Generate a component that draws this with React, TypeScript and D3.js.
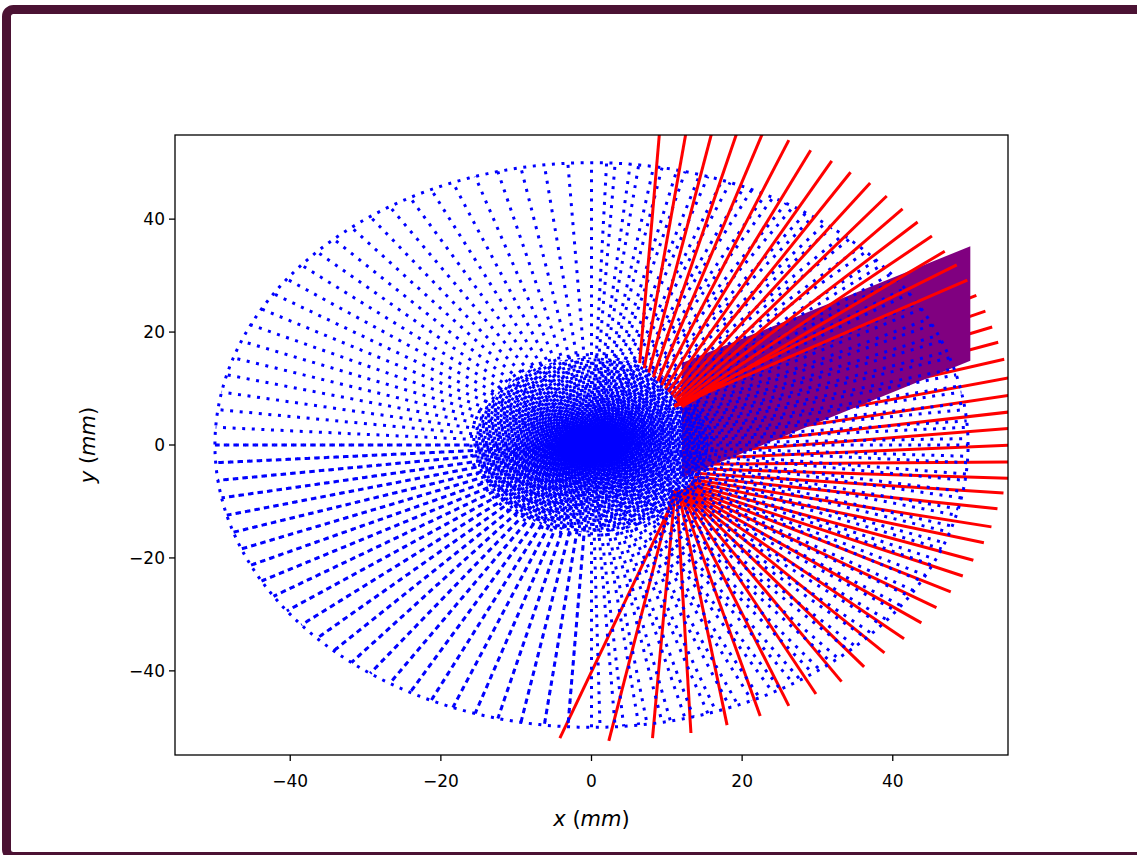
import React from 'react';
import * as d3 from 'd3';

// Plot frame in page pixels
const FRAME = { left: 175, top: 135, right: 1008, bottom: 755 };

const X_DOMAIN: [number, number] = [-55.3, 55.3];
const Y_DOMAIN: [number, number] = [-54.9, 54.9];
const X_TICKS = [-40, -20, 0, 20, 40];
const Y_TICKS = [-40, -20, 0, 20, 40];

// Polar mesh (mm, degrees)
const OUTER_R = 50;
const INNER_R = 16;
const SPOKE_STEP_DEG = 3.6;
// second spoke family on the right half, rotated slightly
const ECHO_SHIFT_DEG = 1.3;
// fine spokes filling the core
const CORE_STEP_DEG = 0.9;

// Beam region corners (mm)
const beamX = [12, 50.3, 50.3, 12];
const beamY = [14.5, 35.2, 14.9, -5.8];

// Ray segments: start and end points (mm)
const rayX0 = [6.4, 7.0, 7.6, 8.2, 8.8, 9.3, 9.8, 10.2, 10.6, 10.9, 11.2, 11.4, 11.6, 11.8, 12.0, 11.0, 11.0,
  11.8, 12.2, 12.6, 13.0, 13.4, 13.7, 14.0, 14.2, 14.3, 14.3, 14.2, 14.0, 13.8, 13.6, 13.4, 13.2, 13.0, 12.8,
  12.6, 12.4, 12.3, 12.2, 12.1, 12.0, 11.9, 11.8, 11.7, 11.6, 11.5, 11.3, 11.1, 10.9, 11.5];
const rayY0 = [14.5, 13.6, 12.8, 12.0, 11.3, 10.6, 10.0, 9.4, 8.9, 8.4, 8.0, 7.6, 7.3, 7.0, 6.8, 7.0, 6.8,
  6.2, 5.4, 4.6, 3.6, 2.6, 1.6, 0.6, -0.4, -1.4, -2.4, -3.4, -4.2, -5.0, -5.6, -6.1, -6.5, -6.9, -7.2,
  -7.4, -7.6, -7.8, -7.9, -8.0, -8.0, -8.0, -8.0, -8.0, -8.0, -8.0, -8.0, -8.0, -8.0, -8.0];
const rayX1 = [9.2, 12.9, 16.5, 20.0, 23.6, 26.2, 29.1, 31.9, 34.4, 37.0, 39.2, 41.3, 43.3, 45.2, 46.9, 48.5, 49.9,
  51.1, 52.3, 53.2, 54.0, 54.8, 57.0, 57.5, 57.8, 58.0, 58.0, 57.8, 57.5, 54.7, 53.9, 53.1, 52.1, 50.7, 49.3,
  47.7, 45.8, 43.8, 41.5, 38.9, 36.2, 33.2, 29.8, 26.2, 22.4, 18.0, 13.2, 8.1, 2.3, -4.2];
const rayY1 = [58.0, 58.0, 58.0, 58.0, 58.0, 54.0, 52.2, 50.3, 48.3, 46.4, 44.1, 41.8, 39.5, 37.0, 34.3, 31.9, 29.2,
  26.5, 23.7, 20.9, 18.2, 15.2, 12.3, 9.2, 6.2, 3.2, 0.1, -3.0, -6.0, -8.5, -11.3, -14.5, -17.3, -20.4, -23.2,
  -26.0, -28.8, -31.5, -34.3, -36.8, -39.3, -41.9, -44.1, -46.2, -48.0, -49.6, -51.0, -51.9, -52.4, -51.9];
// rays drawn above the beam fill
const RAYS_ON_TOP = 17;

const BLUE = '#0000ff';
const RED = '#ff0000';
const PURPLE = '#800080';
const FONT = '"DejaVu Sans", sans-serif';
const DASH_PERIOD = 9.6;

const rad = (deg: number) => (deg * Math.PI) / 180;

export default function App() {
  const x = d3.scaleLinear().domain(X_DOMAIN).range([FRAME.left, FRAME.right]);
  const y = d3.scaleLinear().domain(Y_DOMAIN).range([FRAME.bottom, FRAME.top]);
  const line = d3.line<[number, number]>().x((d) => x(d[0])).y((d) => y(d[1]));

  const circlePath = (r: number) =>
    line(d3.range(0, 361, 1).map((a) => [r * Math.cos(rad(a)), r * Math.sin(rad(a))] as [number, number])) || '';

  const dotted = (i: number) => ({
    stroke: BLUE,
    strokeWidth: 3,
    strokeDasharray: '3 6.6',
    strokeDashoffset: ((i * 3.7) % DASH_PERIOD).toFixed(2),
    fill: 'none',
  });

  const spoke = (deg: number, r0: number, r1: number, i: number, key: string) => (
    <line
      key={key}
      x1={x(r0 * Math.cos(rad(deg)))}
      y1={y(r0 * Math.sin(rad(deg)))}
      x2={x(r1 * Math.cos(rad(deg)))}
      y2={y(r1 * Math.sin(rad(deg)))}
      {...dotted(i)}
    />
  );

  const mainAngles = d3.range(0, 360, SPOKE_STEP_DEG);
  // right half carries a second, slightly rotated family; lower left repeats the same spokes
  const echoRight = mainAngles.filter((a) => a < 90 || a >= 270).map((a) => a + ECHO_SHIFT_DEG);
  const echoLowerLeft = mainAngles.filter((a) => a >= 180 && a < 270);
  const coreAngles = d3.range(0, 360, CORE_STEP_DEG).filter((a, i) => i % 4 !== 0);

  const rays = rayX0.map((_, i) => ({ i, x0: rayX0[i], y0: rayY0[i], x1: rayX1[i], y1: rayY1[i] }));
  const rayEl = (r: typeof rays[number]) => (
    <line key={'ray' + r.i} x1={x(r.x0)} y1={y(r.y0)} x2={x(r.x1)} y2={y(r.y1)} stroke={RED} strokeWidth={3} />
  );

  const beamPath = line(beamX.map((v, i) => [v, beamY[i]] as [number, number])) + 'Z';
  const fmt = (t: number) => (t < 0 ? '\u2212' + Math.abs(t) : String(t));

  return (
    <svg width={1137} height={855} style={{ position: 'absolute', left: 0, top: 0, background: '#fff' }}>
      <defs>
        <clipPath id="plotArea">
          <rect x={FRAME.left} y={FRAME.top} width={FRAME.right - FRAME.left} height={FRAME.bottom - FRAME.top} />
        </clipPath>
      </defs>
      {/* page frame */}
      <rect x={6.5} y={9.5} width={1160} height={847} rx={7} fill="none" stroke="#4b1233" strokeWidth={9} />

      <g clipPath="url(#plotArea)">
        {rays.filter((r) => r.i >= RAYS_ON_TOP).map(rayEl)}
        <path d={beamPath} fill={PURPLE} />
        {mainAngles.map((a, i) => spoke(a, 0, OUTER_R, i, 'm' + i))}
        {echoRight.map((a, i) => spoke(a, 0, OUTER_R, i + 7, 'e' + i))}
        {echoLowerLeft.map((a, i) => spoke(a, 0, OUTER_R, i + 13, 'l' + i))}
        {coreAngles.map((a, i) => spoke(a, 0, INNER_R - 0.5, i + 3, 'c' + i))}
        <path d={circlePath(OUTER_R)} {...dotted(0)} />
        <path d={circlePath(INNER_R)} {...dotted(1)} />
        {rays.filter((r) => r.i < RAYS_ON_TOP).map(rayEl)}
      </g>

      {/* frame */}
      <rect x={FRAME.left} y={FRAME.top} width={FRAME.right - FRAME.left} height={FRAME.bottom - FRAME.top} fill="none" stroke="#000" strokeWidth={1.3} />

      {/* x axis */}
      {X_TICKS.map((t) => (
        <g key={'xt' + t}>
          <line x1={x(t)} x2={x(t)} y1={FRAME.bottom} y2={FRAME.bottom + 6} stroke="#000" strokeWidth={1.3} />
          <text x={x(t)} y={FRAME.bottom + 32} textAnchor="middle" fontFamily={FONT} fontSize={17} fill="#000">
            {fmt(t)}
          </text>
        </g>
      ))}
      {/* y axis */}
      {Y_TICKS.map((t) => (
        <g key={'yt' + t}>
          <line x1={FRAME.left - 6} x2={FRAME.left} y1={y(t)} y2={y(t)} stroke="#000" strokeWidth={1.3} />
          <text x={FRAME.left - 10} y={y(t) + 6} textAnchor="end" fontFamily={FONT} fontSize={17} fill="#000">
            {fmt(t)}
          </text>
        </g>
      ))}

      <text x={(FRAME.left + FRAME.right) / 2} y={826} textAnchor="middle" fontFamily={FONT} fontSize={21} fill="#000">
        <tspan fontStyle="italic">x</tspan>
        <tspan> (</tspan>
        <tspan fontStyle="italic">mm</tspan>
        <tspan>)</tspan>
      </text>
      <text transform={`translate(95, ${(FRAME.top + FRAME.bottom) / 2}) rotate(-90)`} textAnchor="middle" fontFamily={FONT} fontSize={21} fill="#000">
        <tspan fontStyle="italic">y</tspan>
        <tspan> (</tspan>
        <tspan fontStyle="italic">mm</tspan>
        <tspan>)</tspan>
      </text>
    </svg>
  );
}
